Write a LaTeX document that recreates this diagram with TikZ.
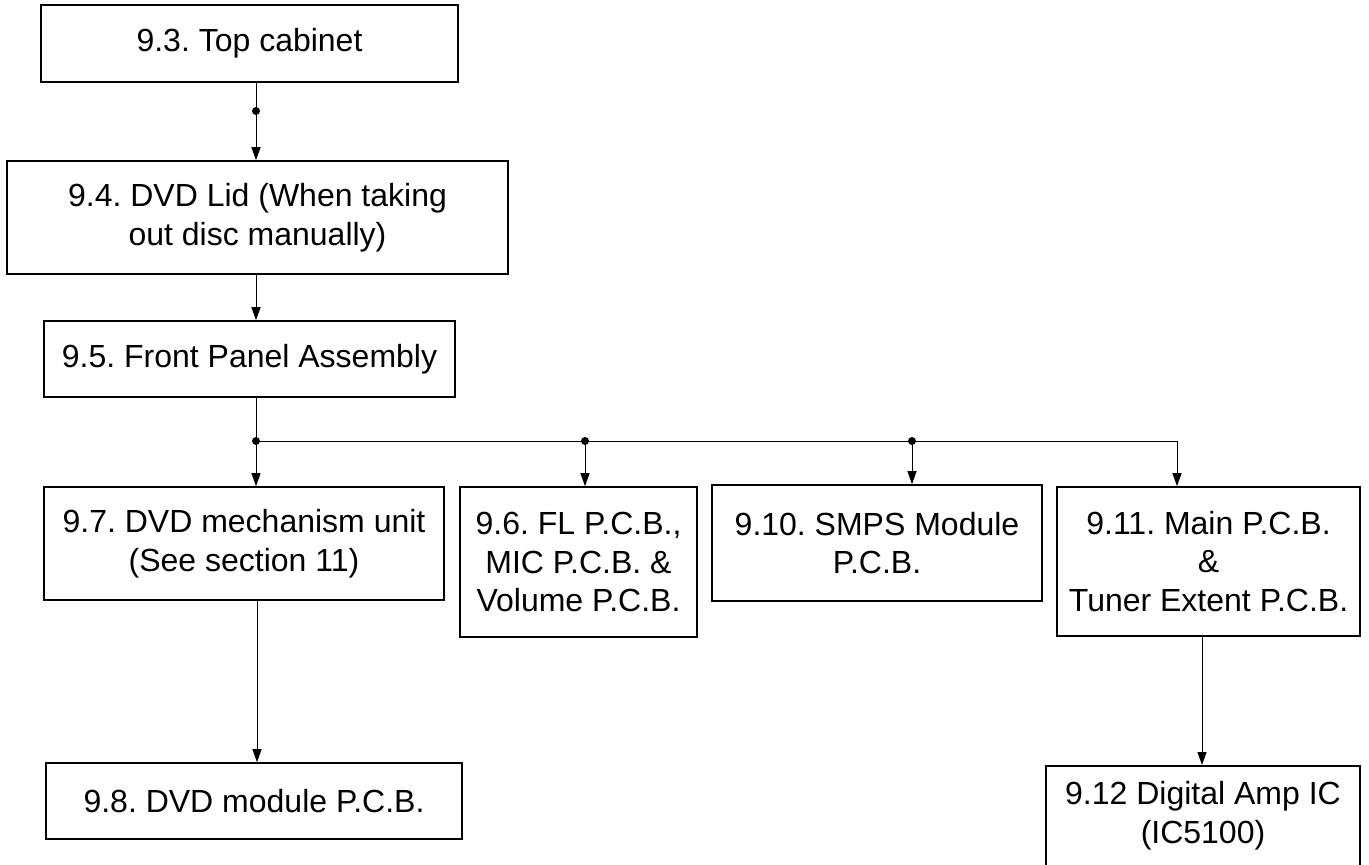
\documentclass[tikz,border=0pt]{standalone}
\usepackage{fontspec}
\setmainfont{Liberation Sans}
\usetikzlibrary{arrows.meta}
\frenchspacing
\begin{document}
\begin{tikzpicture}[x=1pt,y=-1pt,
  box/.style={draw=black,line width=1.6pt,rectangle,inner sep=0pt,align=center,
    font=\fontsize{32}{38.5}\selectfont},
  conn/.style={line width=1pt},
  arr/.style={line width=1pt,-{Triangle[length=13pt,width=9pt]}},
  dot/.style={circle,fill=black,inner sep=0pt,minimum size=8pt}]
\useasboundingbox (0,0) rectangle (1369,865);
\fill[white] (0,0) rectangle (1369,865);
\node[box,minimum width=417pt,minimum height=77pt] (top) at (249.5,43.5) {9.3. Top cabinet};
\node[box,minimum width=501pt,minimum height=113pt] (lid) at (257.5,217.5) {9.4. DVD Lid (When taking\\out disc manually)};
\node[box,minimum width=411pt,minimum height=76pt] (front) at (249.5,359) {9.5. Front Panel Assembly};
\node[box,minimum width=400pt,minimum height=113pt] (mech) at (244,543.5) {9.7. DVD mechanism unit\\(See section 11)};
\node[box,minimum width=237pt,minimum height=150pt] (fl) at (578.5,562) {9.6. FL P.C.B.,\\MIC P.C.B. \&\\Volume P.C.B.};
\node[box,minimum width=330pt,minimum height=116pt] (smps) at (877,543) {9.10. SMPS Module\\P.C.B.};
\node[box,minimum width=303pt,minimum height=149pt] (main) at (1208.5,561.5) {9.11. Main P.C.B.\\\&\\Tuner Extent P.C.B.};
\node[box,minimum width=416pt,minimum height=76pt] (dvdmod) at (254,801) {9.8. DVD module P.C.B.};
\node[box,minimum width=314pt,minimum height=100pt,anchor=north] (amp) at (1203,765) {9.12 Digital Amp IC\\(IC5100)};
\coordinate (j1) at (256,111);
\coordinate (j2) at (256,441);
\coordinate (j3) at (585,441);
\coordinate (j4) at (912,441);
\coordinate (j5) at (1177,441);
\coordinate (c1) at (257,0);
\coordinate (c2) at (1202,0);
\draw[conn] (top.south -| j1) -- (j1);
\draw[arr] (j1) -- (lid.north -| j1);
\draw[arr] (lid.south -| j1) -- (front.north -| j1);
\draw[conn] (front.south -| j2) -- (j2) -- (j5);
\draw[arr] (j2) -- (mech.north -| j2);
\draw[arr] (j3) -- (fl.north -| j3);
\draw[arr] (j4) -- (smps.north -| j4);
\draw[arr] (j5) -- (main.north -| j5);
\draw[arr] (mech.south -| c1) -- (dvdmod.north -| c1);
\draw[arr] (main.south -| c2) -- (amp.north -| c2);
\node[dot] at (j1) {};
\node[dot] at (j2) {};
\node[dot] at (j3) {};
\node[dot] at (j4) {};
\end{tikzpicture}
\end{document}
